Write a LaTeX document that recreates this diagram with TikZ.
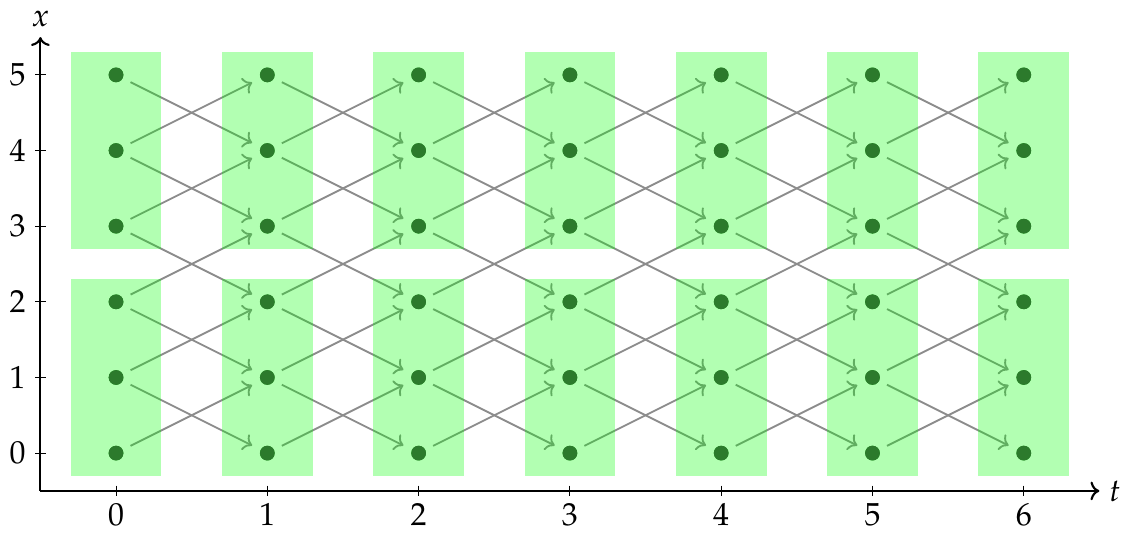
\documentclass[tikz,border=0pt]{standalone}
\usepackage{mathpazo}
\usepackage{xcolor}
\definecolor{sitegreen}{HTML}{2C7A2C}
\definecolor{hopgray}{HTML}{8C8C8C}
\usetikzlibrary{arrows.meta}
\tikzset{
  block/.style={fill=green, fill opacity=0.3, draw=none},
  site/.style={circle, fill=sitegreen, inner sep=0pt, minimum size=0.195cm},
  hop/.style={->, draw=hopgray, line width=0.7pt, shorten <=0.11cm, shorten >=0.12cm},
  axis/.style={->, line width=0.8pt},
  tick/.style={line width=0.4pt},
  albl/.style={font=\large},
}

\begin{document}
\begin{tikzpicture}[x=2cm, y=1cm]
  \useasboundingbox (-0.767,-1.045) rectangle (6.689,5.99);
  % sites
  \foreach \t in {0,...,6}
    \foreach \x in {0,...,5}
      \node[site] (s-\t-\x) at (\t,\x) {};
  % hops
  \foreach \t [evaluate=\t as \u using int(\t+1)] in {0,...,5} {
    \foreach \x [evaluate=\x as \up using int(\x+1)] in {0,...,4}
      \draw[hop] (s-\t-\x) -- (s-\u-\up);
    \foreach \x [evaluate=\x as \dn using int(\x-1)] in {1,...,5}
      \draw[hop] (s-\t-\x) -- (s-\u-\dn);
  }
  % blocks
  \foreach \t in {0,...,6} {
    \fill[block] (\t-0.3,-0.3) rectangle (\t+0.3,2.3);
    \fill[block] (\t-0.3,2.7) rectangle (\t+0.3,5.3);
  }
  % sites again, on top
  \foreach \t in {0,...,6}
    \foreach \x in {0,...,5}
      \node[site] at (s-\t-\x) {};
  % axes
  \coordinate (o) at (-0.5,-0.5);
  \coordinate (tend) at (6.5,-0.5);
  \coordinate (xend) at (-0.5,5.5);
  \draw[axis] (o) -- (tend) node[right, albl] {$t$};
  \draw[axis] (o) -- (xend) node[above, albl] {$x$};
  \foreach \t in {0,...,6}
    \draw[tick] (\t,-0.5) ++(0,2pt) -- ++(0,-4pt) node[below, albl, inner sep=2.5pt] {$\t$};
  \foreach \x in {0,...,5}
    \draw[tick] (-0.5,\x) ++(2pt,0) -- ++(-4pt,0) node[left, albl] {$\x$};
\end{tikzpicture}
\end{document}
